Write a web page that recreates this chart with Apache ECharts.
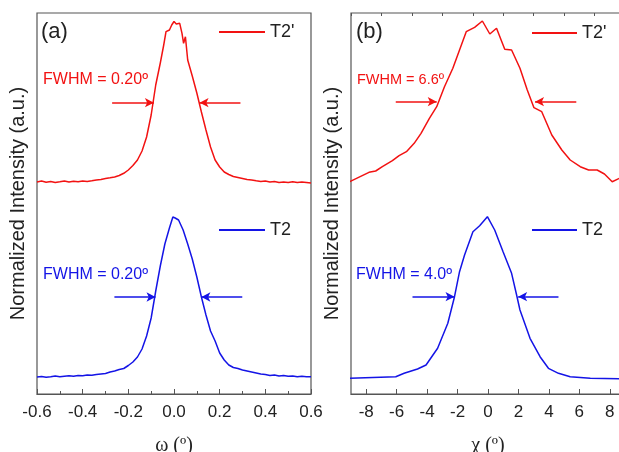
<!DOCTYPE html>
<html>
<head>
<meta charset="utf-8">
<script src="https://cdn.jsdelivr.net/npm/echarts@6/dist/echarts.min.js"></script>
<style>html,body{margin:0;padding:0;background:#fff}#c{width:619px;height:452px}</style>
</head>
<body>
<div id="c"></div>
<script>
// ---- panel (a): omega scans ----
const omegaRed = [-0.60,-0.58,-0.56,-0.54,-0.52,-0.50,-0.48,-0.46,-0.44,-0.42,-0.40,-0.38,-0.36,-0.34,-0.32,-0.30,-0.28,-0.26,-0.24,-0.22,-0.20,-0.18,-0.16,-0.14,-0.12,-0.10,-0.08,-0.06,-0.045,-0.035,-0.02,-0.01,0.0,0.01,0.025,0.035,0.042,0.05,0.06,0.08,0.10,0.12,0.14,0.16,0.18,0.20,0.22,0.24,0.26,0.28,0.30,0.32,0.34,0.36,0.38,0.40,0.42,0.44,0.46,0.48,0.50,0.52,0.54,0.56,0.58,0.60];
const t2pOmega = [212,213,211.7,212.5,211.5,212.2,213,212,212.7,212.2,213,212.5,213.2,214,214.5,215.5,216.2,217,218.5,220.7,224,228.5,234,243,257,279,309,331,349,362.3,364,369,372.5,370,370.7,360.7,350.7,357.3,334,318,301,282,264,247,234,227,222,219.5,217.5,216.5,215.5,214.5,214,213.2,212.5,213,212,212.5,211.5,212,211.5,212.2,211.5,212,211.5,211];
const omegaBlue = [-0.60,-0.58,-0.56,-0.54,-0.52,-0.50,-0.48,-0.46,-0.44,-0.42,-0.40,-0.38,-0.36,-0.34,-0.32,-0.30,-0.28,-0.26,-0.24,-0.22,-0.20,-0.18,-0.16,-0.14,-0.12,-0.10,-0.08,-0.06,-0.04,-0.02,-0.005,0.005,0.02,0.04,0.06,0.08,0.10,0.12,0.14,0.16,0.18,0.20,0.22,0.24,0.26,0.28,0.30,0.32,0.34,0.36,0.38,0.40,0.42,0.44,0.46,0.48,0.50,0.52,0.54,0.56,0.58,0.60];
const t2Omega = [17,17.5,16.7,17.2,18,17.2,17.8,18.2,17.7,18.5,18.2,19,18.7,19.5,20,20.5,22,23,24.5,25.5,28.5,32,37,45,58,76,103,128,150,166,177,176,174,164,150,135,117,97,79,63,53,41,34,29,26.5,25.5,24,23,22,21,20,19.5,18.5,19,18,18.5,17.7,18,17.2,17.7,17.3,17.3];

// ---- panel (b): chi scans ----
const chiRed = [-9.08,-7.82,-7.38,-6.94,-6.28,-5.84,-5.36,-4.85,-4.40,-3.85,-3.37,-2.86,-2.31,-1.87,-1.43,-0.88,-0.37,0.12,0.56,1.10,1.55,2.10,2.58,3.02,3.53,4.19,4.85,5.40,6.06,6.61,7.17,7.65,8.16,8.64,9.10];
const t2pChi = [212.3,221.7,223,227.3,233.3,238.3,242.3,250.7,260.7,275.7,287.3,307.3,325.7,344,362.3,366.7,373,360,365.7,344.7,344,325.7,304,286.3,282.3,259,244,234,227.3,224,224,220,212.3,215.7,218];
const chiBlue = [-9.15,-6.06,-5.51,-4.63,-4.07,-3.31,-2.64,-2.20,-1.87,-1.54,-0.99,-0.55,-0.04,0.44,0.99,1.55,1.88,2.10,2.76,3.42,3.97,4.63,5.40,6.72,9.10];
const t2Chi = [15.7,17.3,20.7,25,29,45.7,70.7,97.3,122.3,139,162.3,168.3,177.3,164,142.3,120.7,99,84,55.7,37.3,25.7,20.7,17.3,15.7,15];

// FWHM arrows: [tailX, headX, y]
const arrowsA_red  = [[-0.271,-0.088,291.3],[0.291,0.112,291.3]];
const arrowsA_blue = [[-0.261,-0.081,97],[0.299,0.120,97]];
const arrowsB_red  = [[-6.06,-3.37,292.3],[5.80,3.09,292.3]];
const arrowsB_blue = [[-4.96,-2.20,97.3],[4.63,1.98,97.3]];

const chiMajor = [-8,-6,-4,-2,0,2,4,6,8];
const chiMinor = [-9,-7,-5,-3,-1,1,3,5,7,9];

const RED = '#f21212', BLUE = '#1414e6', FRAME = '#555', TXT = '#222';
const SANS = '"Liberation Sans", Arial, sans-serif';
const SERIF = '"Liberation Serif", "Times New Roman", serif';

function zip(xs, ys){ return xs.map((x,i)=>[x, ys[i]]); }
function arrows(list, color){
  return {
    silent: true, animation: false,
    symbol: ['none','arrow'], symbolSize: [7,9],
    lineStyle: {color: color, width: 1.5, type: 'solid'},
    label: {show: false},
    data: list.map(a => [{coord:[a[0],a[2]]},{coord:[a[1],a[2]]}])
  };
}
function lineSeries(name, xi, yi, data, color, ml){
  return {name, type:'line', xAxisIndex:xi, yAxisIndex:yi, data, showSymbol:false, symbol:'none',
    color, lineStyle:{color, width:1.5}, markLine: ml, z: 3};
}

const chart = echarts.init(document.getElementById('c'), null, {renderer:'canvas'});
const yCommon = {type:'value', min:0, max:381, axisLine:{show:false}, axisTick:{show:false}, axisLabel:{show:false}, splitLine:{show:false},
  name:'Normalized Intensity (a.u.)', nameLocation:'middle', nameGap:9, nameTextStyle:{fontSize:20, color:TXT, fontFamily:SANS}};
chart.setOption({
  animation:false,
  backgroundColor:'#fff',
  grid:[
    {left:37, top:13, width:274, height:381, outerBoundsMode:'none', containLabel:false, show:true, borderColor:FRAME, borderWidth:1.2, backgroundColor:'transparent'},
    {left:351, top:13, width:274, height:381, outerBoundsMode:'none', containLabel:false, show:true, borderColor:FRAME, borderWidth:1.2, backgroundColor:'transparent'}
  ],
  xAxis:[
    {type:'value', gridIndex:0, min:-0.6, max:0.6, interval:0.2,
      axisLine:{show:true, lineStyle:{color:FRAME, width:1.2}},
      axisTick:{show:true, inside:true, length:5, lineStyle:{color:FRAME}},
      minorTick:{show:true, splitNumber:2, length:3, lineStyle:{color:FRAME}},
      axisLabel:{fontSize:17, color:TXT, fontFamily:SANS, margin:10, formatter:v=>v.toFixed(1)},
      splitLine:{show:false},
      name:'ω (º)', nameLocation:'middle', nameGap:42, nameTextStyle:{fontSize:20, color:TXT, fontFamily:SERIF}},
    {type:'value', gridIndex:1, min:-9, max:9,
      axisLine:{show:true, lineStyle:{color:FRAME, width:1.2}},
      axisTick:{show:true, inside:true, length:5, customValues:chiMajor, lineStyle:{color:FRAME}},
      axisLabel:{fontSize:17, color:TXT, fontFamily:SANS, margin:10, customValues:chiMajor},
      splitLine:{show:false},
      name:'χ (º)', nameLocation:'middle', nameGap:42, nameTextStyle:{fontSize:20, color:TXT, fontFamily:SERIF}},
    {type:'value', gridIndex:1, min:-9, max:9,
      axisLine:{show:false},
      axisTick:{show:true, inside:true, length:3, customValues:chiMinor, lineStyle:{color:FRAME}},
      axisLabel:{show:false}, splitLine:{show:false}}
  ],
  yAxis:[
    Object.assign({gridIndex:0}, yCommon),
    Object.assign({gridIndex:1}, yCommon)
  ],
  legend:[
    {left:219, top:23, padding:0, icon:'rect', itemWidth:46, itemHeight:2, data:["T2'"], textStyle:{fontSize:18, color:TXT, fontFamily:SANS}, selectedMode:false},
    {left:219, top:221, padding:0, icon:'rect', itemWidth:46, itemHeight:2, data:['T2'], textStyle:{fontSize:18, color:TXT, fontFamily:SANS}, selectedMode:false},
    {left:532, top:24, padding:0, icon:'rect', itemWidth:45, itemHeight:2, data:["T2'"], textStyle:{fontSize:18, color:TXT, fontFamily:SANS}, selectedMode:false},
    {left:532, top:221, padding:0, icon:'rect', itemWidth:45, itemHeight:2, data:['T2'], textStyle:{fontSize:18, color:TXT, fontFamily:SANS}, selectedMode:false}
  ],
  graphic:[
    {type:'text', x:41, y:32, style:{text:'(a)', font:'22px '+SANS, fill:TXT, verticalAlign:'middle'}},
    {type:'text', x:356, y:32, style:{text:'(b)', font:'22px '+SANS, fill:TXT, verticalAlign:'middle'}},
    {type:'text', x:43, y:80, style:{text:'FWHM = 0.20º', font:'16px '+SANS, fill:RED, verticalAlign:'middle'}},
    {type:'text', x:43, y:275, style:{text:'FWHM = 0.20º', font:'16px '+SANS, fill:BLUE, verticalAlign:'middle'}},
    {type:'text', x:357, y:80, style:{text:'FWHM = 6.6º', font:'14.5px '+SANS, fill:RED, verticalAlign:'middle'}},
    {type:'text', x:356, y:275, style:{text:'FWHM = 4.0º', font:'16px '+SANS, fill:BLUE, verticalAlign:'middle'}}
  ],
  series:[
    lineSeries("T2'", 0, 0, zip(omegaRed, t2pOmega), RED, arrows(arrowsA_red, RED)),
    lineSeries('T2', 0, 0, zip(omegaBlue, t2Omega), BLUE, arrows(arrowsA_blue, BLUE)),
    lineSeries("T2'", 1, 1, zip(chiRed, t2pChi), RED, arrows(arrowsB_red, RED)),
    lineSeries('T2', 1, 1, zip(chiBlue, t2Chi), BLUE, arrows(arrowsB_blue, BLUE))
  ]
});
</script>
</body>
</html>
